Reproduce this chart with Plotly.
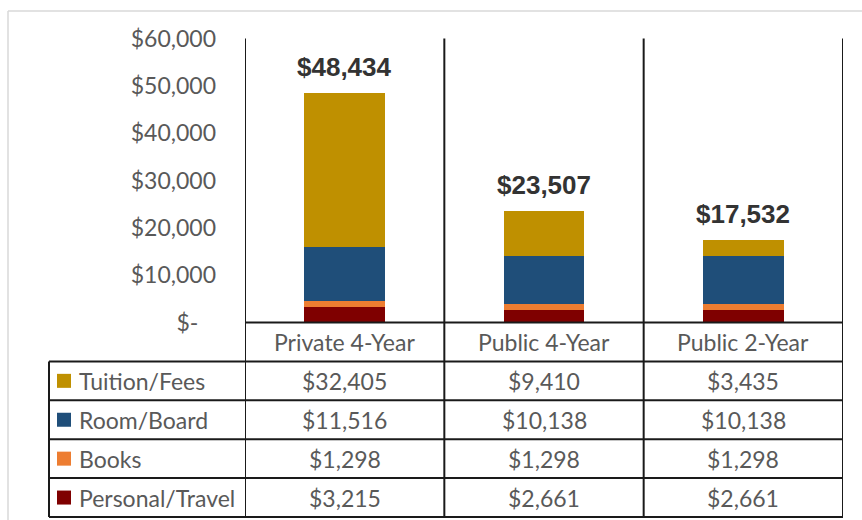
import plotly.graph_objects as go

# Annual cost of attendance by institution type
categories = ["Private 4-Year", "Public 4-Year", "Public 2-Year"]
series_names = ["Tuition/Fees", "Room/Board", "Books", "Personal/Travel"]
tuition_fees = [32405, 9410, 3435]
room_board = [11516, 10138, 10138]
books = [1298, 1298, 1298]
personal_travel = [3215, 2661, 2661]
series_colors = ["#BF9000", "#1F4E79", "#ED7D31", "#7F0000"]

y_tick_values = [0, 10000, 20000, 30000, 40000, 50000, 60000]
y_tick_labels = ["$-\u00a0\u00a0\u00a0", "$10,000", "$20,000", "$30,000",
                 "$40,000", "$50,000", "$60,000"]

series_values = [tuition_fees, room_board, books, personal_travel]
totals = [sum(v) for v in zip(*series_values)]

W, H = 862, 520


def px(x):
    return x / W


def py(y):
    return 1 - y / H


def money(v):
    return f"${v:,}"


TEXT_FONT = dict(family="Lato, 'Open Sans', sans-serif", size=23, color="#595959")
LINE = dict(color="#1a1a1a", width=2)

plot_left, plot_right = 245, 843
plot_top, plot_bottom = 38.5, 322.5
table_left = 49
row_h = (517 - plot_bottom) / 5
row_edges = [plot_bottom + k * row_h for k in range(6)]

fig = go.Figure()

# stacked columns, bottom segment first
for i in reversed(range(len(series_names))):
    fig.add_trace(go.Bar(
        x=categories, y=series_values[i], name=series_names[i],
        marker=dict(color=series_colors[i], line=dict(width=0)),
        width=0.405, hoverinfo="skip",
    ))

# totals above each column
for cat, tot in zip(categories, totals):
    fig.add_annotation(
        x=cat, y=tot, xref="x", yref="y", text=f"<b>{money(tot)}</b>",
        showarrow=False, yanchor="bottom", yshift=9,
        font=dict(family="Liberation Sans, Arial, sans-serif", size=26, color="#333333"),
    )

shapes = []
# outer frame of the chart area
shapes.append(dict(type="line", xref="paper", yref="paper", x0=px(8), x1=px(8),
                   y0=py(11), y1=py(H), line=dict(color="#d9d9d9", width=1.5)))
shapes.append(dict(type="line", xref="paper", yref="paper", x0=px(8), x1=1,
                   y0=py(11), y1=py(11), line=dict(color="#d9d9d9", width=1.5)))

# column dividers running from plot top through the data table
for k in range(len(categories) + 1):
    shapes.append(dict(type="line", xref="x", yref="paper", x0=k - 0.5, x1=k - 0.5,
                       y0=py(plot_top), y1=py(row_edges[-1]), line=LINE))
# baseline / header top
shapes.append(dict(type="line", xref="x", yref="paper", x0=-0.5, x1=len(categories) - 0.5,
                   y0=py(row_edges[0]), y1=py(row_edges[0]), line=LINE))
# table row lines including the legend column
for yy in row_edges[1:]:
    shapes.append(dict(type="line", xref="paper", yref="paper", x0=px(table_left),
                       x1=px(plot_right), y0=py(yy), y1=py(yy), line=LINE))
shapes.append(dict(type="line", xref="paper", yref="paper", x0=px(table_left), x1=px(table_left),
                   y0=py(row_edges[1]), y1=py(row_edges[-1]), line=LINE))

# header row: category names
header_mid = (row_edges[0] + row_edges[1]) / 2
for cat in categories:
    fig.add_annotation(x=cat, y=py(header_mid), xref="x", yref="paper", text=cat,
                       showarrow=False, font=TEXT_FONT, yanchor="middle")

# data rows with legend keys
for r, (name, color, vals) in enumerate(zip(series_names, series_colors, series_values)):
    mid = (row_edges[r + 1] + row_edges[r + 2]) / 2
    shapes.append(dict(type="rect", xref="paper", yref="paper", x0=px(57), x1=px(71),
                       y0=py(mid + 7), y1=py(mid - 7), fillcolor=color, line=dict(width=0)))
    fig.add_annotation(x=px(77), y=py(mid), xref="paper", yref="paper", text=name,
                       showarrow=False, xanchor="left", yanchor="middle", font=TEXT_FONT)
    for cat, v in zip(categories, vals):
        fig.add_annotation(x=cat, y=py(mid), xref="x", yref="paper", text=money(v),
                           showarrow=False, yanchor="middle", font=TEXT_FONT)

fig.update_layout(
    width=W, height=H,
    margin=dict(l=0, r=0, t=0, b=0, autoexpand=False),
    paper_bgcolor="white", plot_bgcolor="white",
    barmode="stack", showlegend=False,
    shapes=shapes,
    xaxis=dict(domain=[px(plot_left), px(plot_right)], range=[-0.5, len(categories) - 0.5],
               showticklabels=False, showgrid=False, zeroline=False, showline=False,
               fixedrange=True),
    yaxis=dict(domain=[py(plot_bottom), py(plot_top)], range=[0, 60000],
               tickvals=y_tick_values, ticktext=y_tick_labels, tickfont=TEXT_FONT,
               ticks="", ticklabelstandoff=28, showgrid=False, zeroline=False,
               showline=False, fixedrange=True),
)

fig.write_html("out.html")
